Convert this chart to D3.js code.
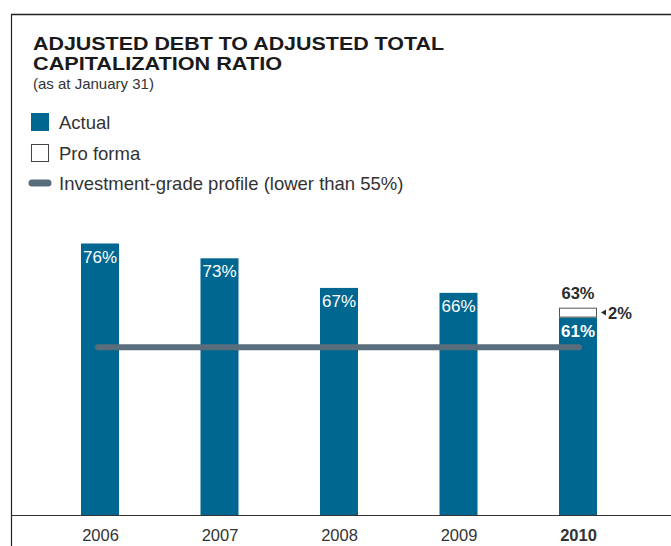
<!DOCTYPE html>
<html>
<head>
<meta charset="utf-8">
<script src="https://cdn.jsdelivr.net/npm/d3@7"></script>
<style>
  html, body { margin: 0; padding: 0; background: #fff; }
  svg { display: block; }
  text { font-family: "Liberation Sans", Arial, Helvetica, sans-serif; }
</style>
</head>
<body>
<svg id="chart" width="671" height="546"></svg>
<script>
// Ratio of adjusted debt to adjusted total capitalization, at January 31
const years = ["2006", "2007", "2008", "2009", "2010"];
const actual = [76, 73, 67, 66, 61];
const proForma = [null, null, null, null, 63];
const proFormaDelta = [null, null, null, null, 2];
const threshold = 55;
const highlightYear = "2010";

const barColor = "#006791";
const lineColor = "#5a6d7c";
const textColor = "#2b2b2b";

const svg = d3.select("#chart");

// frame: top rule and left rule
svg.append("line").attr("x1", 11).attr("x2", 671).attr("y1", 14.5).attr("y2", 14.5)
  .attr("stroke", "#222").attr("stroke-width", 1.5);
svg.append("line").attr("x1", 11.5).attr("x2", 11.5).attr("y1", 14).attr("y2", 546)
  .attr("stroke", "#222").attr("stroke-width", 1.2);

// title block
const title = svg.append("text").attr("font-weight", "bold")
  .attr("font-size", 18.5).attr("fill", "#1a1a1a");
title.append("tspan").attr("x", 33).attr("y", 50)
  .attr("textLength", 411).attr("lengthAdjust", "spacingAndGlyphs")
  .text("ADJUSTED DEBT TO ADJUSTED TOTAL");
title.append("tspan").attr("x", 33).attr("y", 70)
  .attr("textLength", 249).attr("lengthAdjust", "spacingAndGlyphs")
  .text("CAPITALIZATION RATIO");
svg.append("text").attr("x", 33).attr("y", 89).attr("font-size", 15)
  .attr("fill", "#333").text("(as at January 31)");

// legend
const legend = svg.append("g");
legend.append("rect").attr("x", 31).attr("y", 113).attr("width", 18).attr("height", 18)
  .attr("fill", barColor);
legend.append("text").attr("x", 59).attr("y", 129).attr("font-size", 18.5)
  .attr("fill", "#333").text("Actual");
legend.append("rect").attr("x", 31.5).attr("y", 144.5).attr("width", 17).attr("height", 17)
  .attr("fill", "#fff").attr("stroke", "#444").attr("stroke-width", 1);
legend.append("text").attr("x", 59).attr("y", 160).attr("font-size", 18.5)
  .attr("fill", "#333").text("Pro forma");
legend.append("line").attr("x1", 32).attr("x2", 48).attr("y1", 183).attr("y2", 183)
  .attr("stroke", lineColor).attr("stroke-width", 7).attr("stroke-linecap", "round");
legend.append("text").attr("x", 59).attr("y", 190).attr("font-size", 18.5)
  .attr("fill", "#333").text("Investment-grade profile (lower than 55%)");

// scales
const x = d3.scalePoint().domain(years).range([100, 578]);
const y = d3.scaleLinear().domain([21, 76]).range([515, 243.5]);
const barW = 38;

// actual bars
svg.append("g").selectAll("rect").data(years).join("rect")
  .attr("x", d => x(d) - barW / 2)
  .attr("y", (d, i) => y(actual[i]))
  .attr("width", barW)
  .attr("height", (d, i) => y.range()[0] - y(actual[i]))
  .attr("fill", barColor);

// pro forma increments
years.forEach((d, i) => {
  if (proForma[i] == null) return;
  svg.append("rect")
    .attr("x", x(d) - barW / 2 + 0.5)
    .attr("y", y(proForma[i]) + 0.5)
    .attr("width", barW - 1)
    .attr("height", y(actual[i]) - y(proForma[i]) - 1)
    .attr("fill", "#fff").attr("stroke", "#555").attr("stroke-width", 1);
  svg.append("text")
    .attr("x", x(d)).attr("y", y(proForma[i]) - 9)
    .attr("text-anchor", "middle").attr("font-size", 16.5).attr("font-weight", "bold")
    .attr("fill", textColor).text(proForma[i] + "%");
  const my = (y(proForma[i]) + y(actual[i])) / 2;
  const ax = x(d) + barW / 2 + 4;
  svg.append("path")
    .attr("d", `M${ax},${my} L${ax + 5},${my - 3} L${ax + 5},${my + 3} Z`)
    .attr("fill", textColor);
  svg.append("text")
    .attr("x", ax + 7).attr("y", my + 6)
    .attr("font-size", 16.5).attr("font-weight", "bold")
    .attr("fill", textColor).text(proFormaDelta[i] + "%");
});

// value labels inside bars
svg.append("g").selectAll("text").data(years).join("text")
  .attr("x", d => x(d))
  .attr("y", (d, i) => y(actual[i]) + 19)
  .attr("text-anchor", "middle")
  .attr("font-size", 17)
  .attr("font-weight", d => d === highlightYear ? "bold" : "normal")
  .attr("fill", "#fff")
  .text((d, i) => actual[i] + "%");

// investment-grade threshold line
svg.append("line")
  .attr("x1", x(years[0]) - 2).attr("x2", x(years[years.length - 1]) + 1)
  .attr("y1", y(threshold)).attr("y2", y(threshold))
  .attr("stroke", lineColor).attr("stroke-width", 6).attr("stroke-linecap", "round");

// baseline and year axis
const axis = svg.append("g").attr("transform", `translate(0,${y.range()[0]})`)
  .call(d3.axisBottom(x).tickSize(0).tickPadding(14));
axis.select(".domain").remove();
axis.append("line").attr("x1", 11).attr("x2", 671).attr("y1", 0.5).attr("y2", 0.5)
  .attr("stroke", "#333").attr("stroke-width", 1.2);
axis.selectAll(".tick text")
  .attr("font-family", "\"Liberation Sans\", Arial, sans-serif")
  .attr("font-size", 16.5)
  .attr("fill", "#333")
  .attr("font-weight", d => d === highlightYear ? "bold" : "normal");
</script>
</body>
</html>
